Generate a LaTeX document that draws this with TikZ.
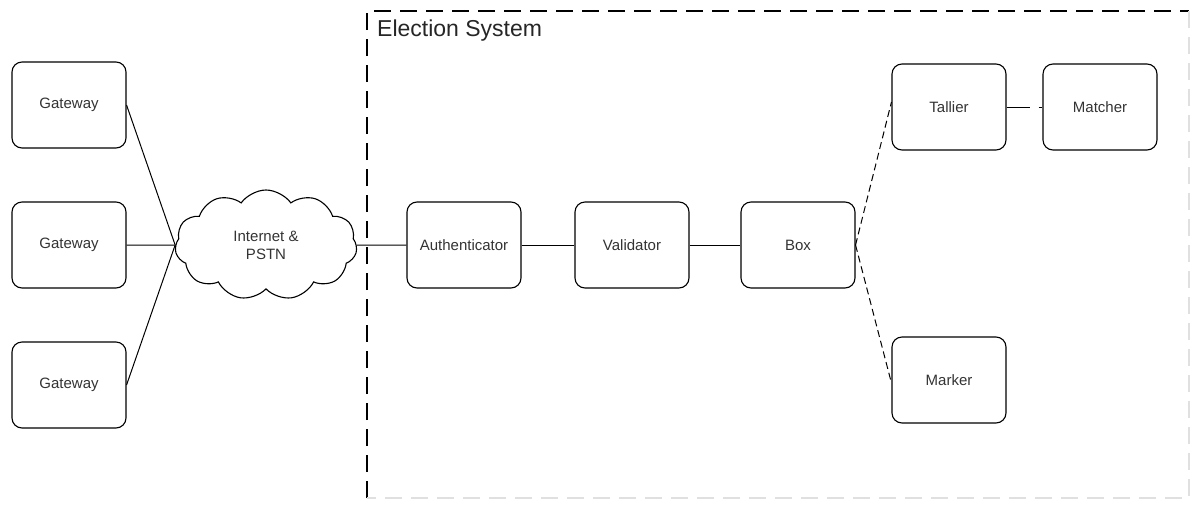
\documentclass[tikz,border=0pt]{standalone}
\usepackage{fontspec}
\setmainfont{Liberation Sans}
\usetikzlibrary{shapes.symbols}
\begin{document}
\begin{tikzpicture}[x=1pt,y=-1pt,
  unit/.style={draw, line width=1.1pt, rounded corners=10pt, minimum width=114pt,
    minimum height=86pt, font=\fontsize{15}{17}\selectfont, text=black!80, inner sep=0pt},
  net/.style={draw, cloud, cloud puffs=11, cloud puff arc=110, aspect=1.7,
    minimum width=182pt, minimum height=110pt, line width=1.1pt, align=center,
    font=\fontsize{15}{18}\selectfont, text=black!80, inner sep=0pt},
  link/.style={line width=1pt},
  optlink/.style={line width=1pt, dash pattern=on 7pt off 4pt},
  frame/.style={line width=1.2pt, dash pattern=on 17pt off 9pt}]
\useasboundingbox (0,0) rectangle (1192,504);

% system boundary
\draw[frame] (367,498) -- (367,11) -- (1189,11);
\draw[frame, black!12] (1189,11) -- (1189,498) -- (367,498);
\node[anchor=west, font=\fontsize{23}{26}\selectfont, text=black!85, inner sep=0pt]
  (title) at (377,31) {Election System};

% access side
\node[unit] (gw1) at (69,105) {Gateway};
\node[unit] (gw2) at (69,245) {Gateway};
\node[unit] (gw3) at (69,385) {Gateway};
\node[net] (cloud) at (266,245) {Internet \&\\PSTN};

% processing chain
\node[unit] (auth) at (464,245) {Authenticator};
\node[unit] (val) at (632,245) {Validator};
\node[unit] (box) at (798,245) {Box};
\node[unit] (tal) at (949,107) {Tallier};
\node[unit] (mat) at (1100,107) {Matcher};
\node[unit] (mark) at (949,380) {Marker};

\draw[link] (gw1.east) -- (cloud.west);
\draw[link] (gw2.east) -- (cloud.west);
\draw[link] (gw3.east) -- (cloud.west);
\draw[link] (cloud.east) -- (auth.west);
\draw[link] (auth) -- (val);
\draw[link] (val) -- (box);
\draw[optlink] (box.east) -- ([yshift=5pt]tal.west);
\draw[optlink] (box.east) -- ([yshift=-3pt]mark.west);
\draw[link, dash pattern=on 23pt off 9pt] (tal) -- (mat);
\end{tikzpicture}
\end{document}
